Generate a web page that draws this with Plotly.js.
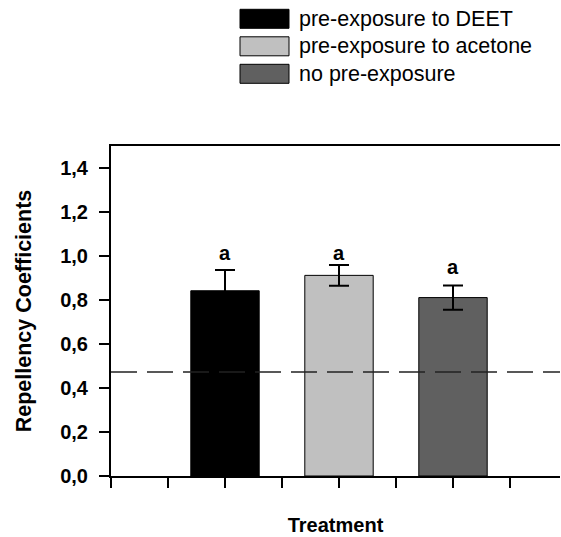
<!DOCTYPE html>
<html>
<head>
<meta charset="utf-8">
<script src="https://cdn.plot.ly/plotly-3.0.1.min.js"></script>
<style>html,body{margin:0;padding:0;background:#fff;}#chart{width:561px;height:537px;}</style>
</head>
<body>
<div id="chart"></div>
<script>
// ---- data ----
const seriesNames = ["pre-exposure to DEET", "pre-exposure to acetone", "no pre-exposure"];
const categoryPos = [1, 2, 3];
const values = [0.842, 0.912, 0.811];
const errors = [0.094, 0.047, 0.055];
const letters = ["a", "a", "a"];
const letterY = [1.015, 1.015, 0.952];
const colors = ["#000000", "#c0c0c0", "#606060"];
const refLine = 0.473;
const yTicks = [0, 0.2, 0.4, 0.6, 0.8, 1.0, 1.2, 1.4];
const xTicks = [0, 0.5, 1, 1.5, 2, 2.5, 3, 3.5];

const W = 561, H = 537;
const M = {l: 111, r: 1, t: 146, b: 61};
const plotW = W - M.l - M.r, plotH = H - M.t - M.b;
const pxX = px => (px - M.l) / plotW;
const pxY = py => (H - M.b - py) / plotH;

const FONT = "Liberation Sans, Arial, sans-serif";

const traces = seriesNames.map((name, i) => ({
  type: "bar",
  name: name,
  x: [categoryPos[i]],
  y: [values[i]],
  width: 0.6,
  marker: {color: colors[i], line: {color: "#000", width: 1}},
  error_y: {type: "data", array: [errors[i]], visible: true, color: "#000", thickness: 2, width: 10},
  showlegend: false,
  hoverinfo: "skip"
}));

const shapes = [{
  type: "line", xref: "paper", yref: "y", x0: 0, x1: 1, y0: refLine, y1: refLine,
  line: {color: "#222", width: 1.5, dash: "26px,10px"}, layer: "above"
}];
const annotations = letters.map((t, i) => ({
  x: categoryPos[i], y: letterY[i], xref: "x", yref: "y", text: t, showarrow: false,
  font: {family: FONT, size: 20, color: "#000", weight: "bold"}, yanchor: "middle"
}));

// custom legend
const rowY = [18.8, 46.3, 73.8];
seriesNames.forEach((name, i) => {
  shapes.push({
    type: "rect", xref: "paper", yref: "paper",
    x0: pxX(240), x1: pxX(289), y0: pxY(rowY[i] - 9.5), y1: pxY(rowY[i] + 9.5),
    fillcolor: colors[i], line: {color: "#000", width: 1}
  });
  annotations.push({
    xref: "paper", yref: "paper", x: pxX(297), y: pxY(rowY[i]), xanchor: "left", yanchor: "middle",
    text: name, showarrow: false, font: {family: FONT, size: 21.5, color: "#000"}
  });
});

const layout = {
  width: W, height: H,
  margin: M,
  paper_bgcolor: "#fff", plot_bgcolor: "#fff",
  separators: ",.",
  font: {family: FONT, color: "#000"},
  showlegend: false,
  xaxis: {
    range: [0, plotW / 114], tickvals: xTicks, showticklabels: false,
    ticks: "outside", ticklen: 10, tickwidth: 1.5, tickcolor: "#000",
    showline: true, linecolor: "#000", linewidth: 2, mirror: true,
    showgrid: false, zeroline: false, fixedrange: true,
    title: {text: "Treatment", font: {family: FONT, size: 20, weight: "bold"}, standoff: 31}
  },
  yaxis: {
    range: [0, 1.5], tickvals: yTicks, tickformat: ".1f",
    ticks: "outside", ticklen: 10, tickwidth: 1.5, tickcolor: "#000",
    ticklabelstandoff: 7,
    tickfont: {family: FONT, size: 20, weight: "bold"},
    showline: true, linecolor: "#000", linewidth: 2, mirror: false,
    showgrid: false, zeroline: false, fixedrange: true,
    title: {text: "Repellency Coefficients", font: {family: FONT, size: 21.5, weight: "bold"}, standoff: 23}
  },
  shapes: shapes,
  annotations: annotations
};

Plotly.newPlot("chart", traces, layout, {staticPlot: true, displayModeBar: false});
</script>
</body>
</html>
